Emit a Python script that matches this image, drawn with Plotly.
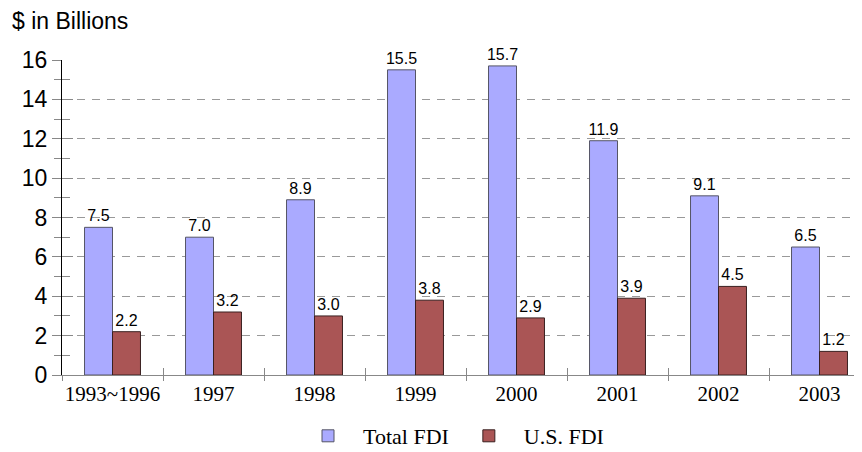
import plotly.graph_objects as go

categories = ["1993~1996", "1997", "1998", "1999", "2000", "2001", "2002", "2003"]
total_fdi = [7.5, 7.0, 8.9, 15.5, 15.7, 11.9, 9.1, 6.5]
us_fdi = [2.2, 3.2, 3.0, 3.8, 2.9, 3.9, 4.5, 1.2]
y_major = [0, 2, 4, 6, 8, 10, 12, 14, 16]
y_grid = [2, 4, 6, 8, 10, 12, 14]

SANS = "Liberation Sans, Arial, sans-serif"
SERIF = "Liberation Serif, Times New Roman, serif"

W, H = 854, 444  # page body has an 8px offset

fig = go.Figure()
fig.add_trace(go.Bar(
    name="Total FDI", x=categories, y=total_fdi,
    marker=dict(color="#aaaaff", line=dict(color="#555566", width=1)),
    text=total_fdi, texttemplate="%{y:.1f}", textposition="outside", constraintext="none",
    textfont=dict(family=SANS, size=16, color="#000"), cliponaxis=False,
))
fig.add_trace(go.Bar(
    name="U.S. FDI", x=categories, y=us_fdi,
    marker=dict(color="#aa5555", line=dict(color="#3a2020", width=1)),
    text=us_fdi, texttemplate="%{y:.1f}", textposition="outside", constraintext="none",
    textfont=dict(family=SANS, size=16, color="#000"), cliponaxis=False,
))

n = len(categories)
xmax = -0.5 + 800 / 101
boundaries = [i - 0.5 for i in range(n + 1)]

# invisible helper traces so the overlay axes (inside ticks, dashed grid) are drawn
fig.add_trace(go.Scatter(x=[], y=[], xaxis="x2", yaxis="y2", showlegend=False, hoverinfo="skip"))
fig.add_trace(go.Scatter(x=[], y=[], xaxis="x2", yaxis="y3", showlegend=False, hoverinfo="skip"))

fig.update_layout(
    width=W, height=H,
    margin=dict(l=54, r=0, t=52, b=77, autoexpand=False),
    paper_bgcolor="white", plot_bgcolor="rgba(0,0,0,0)",
    barmode="group", bargap=0.446, bargroupgap=0,
    title=dict(text="$ in Billions", x=4 / W, xanchor="left", xref="container",
               y=1 - 13 / H, yanchor="middle", yref="container", pad=dict(l=0, r=0, t=0, b=0),
               font=dict(family=SANS, size=23, color="#000")),
    showlegend=True,
    legend=dict(orientation="h", x=0.5 + 16 / W, xanchor="center", xref="container",
                y=1 - 428 / H, yanchor="middle", yref="container",
                font=dict(family=SERIF, size=22, color="#000"), itemwidth=60,
                traceorder="normal"),
    xaxis=dict(
        type="category", range=[-0.5, xmax], showline=True, linecolor="#888",
        linewidth=1, ticks="outside", ticklen=5, tickcolor="#888",
        tickson="boundaries", showgrid=False, tickangle=0, automargin=False,
        tickfont=dict(family=SERIF, size=21, color="#000"), zeroline=False,
    ),
    xaxis2=dict(
        overlaying="x", anchor="y", side="bottom", range=[-0.5, xmax],
        tickvals=boundaries, showticklabels=False, ticks="inside", ticklen=7,
        tickcolor="#888", showgrid=False, showline=False, zeroline=False, automargin=False,
    ),
    yaxis=dict(
        range=[0, 16], tickvals=y_major, showline=True, linecolor="#000",
        linewidth=1, ticks="outside", ticklen=9, tickcolor="#888",
        minor=dict(dtick=1, ticks="outside", ticklen=7, tickcolor="#888", showgrid=False),
        showgrid=False, zeroline=False, automargin=False,
        tickfont=dict(family=SANS, size=23, color="#000"),
    ),
    yaxis2=dict(
        overlaying="y", anchor="x", side="left", range=[0, 16], tickvals=y_major,
        showticklabels=False, ticks="inside", ticklen=11, tickcolor="#888",
        minor=dict(dtick=1, ticks="inside", ticklen=8, tickcolor="#888", showgrid=False),
        showgrid=False, showline=False, zeroline=False, automargin=False,
    ),
    yaxis3=dict(
        overlaying="y", anchor="x", side="left", range=[0, 16], tickvals=y_grid,
        showticklabels=False, ticks="", showgrid=True, gridcolor="#999",
        griddash="8px,7px", gridwidth=1, showline=False, zeroline=False, automargin=False,
    ),
)

fig.write_html("out.html")
